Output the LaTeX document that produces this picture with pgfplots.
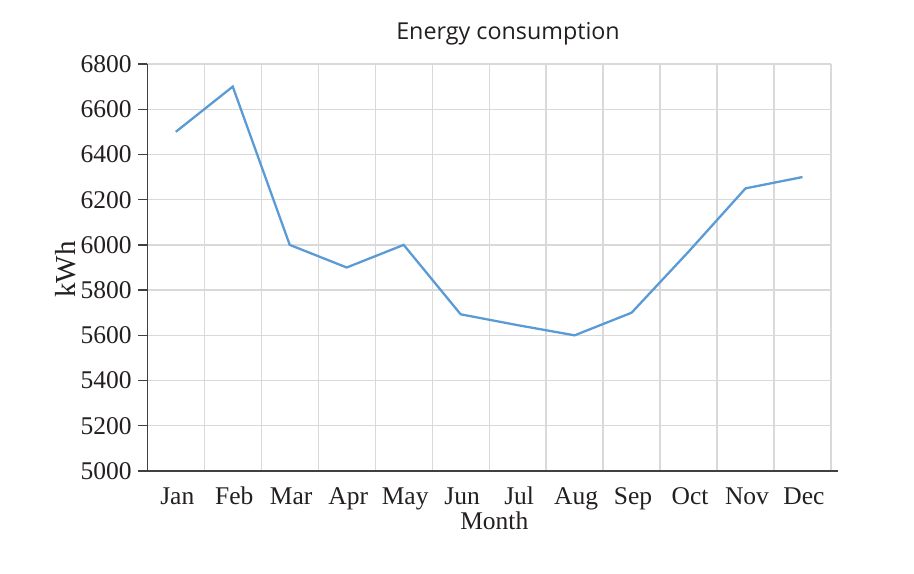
\documentclass[border=0pt]{standalone}
\usepackage{pgfplots}
\pgfplotsset{compat=1.18}
\usepackage{fontspec}
\setmainfont{Liberation Serif}
\newfontfamily\titlefont{Open Sans}
\definecolor{lineblue}{HTML}{5B9BD5}
\definecolor{gridgray}{HTML}{D9D9D9}
\definecolor{axisgray}{HTML}{404040}
\definecolor{textblack}{HTML}{231F20}
\begin{document}
\begin{tikzpicture}
\path[use as bounding box] (-147.3bp,-103bp) rectangle (766.7bp,471bp);
\begin{axis}[
  scale only axis,
  width=683.7bp, height=407bp,
  xmin=0.5, xmax=12.5,
  ymin=5000, ymax=6800,
  axis lines=left,
  axis line style={-, draw=axisgray, line width=1.3pt},
  x axis line style={shorten >=-7bp},
  xtick={1,...,12},
  xticklabels={Jan,Feb,Mar,Apr,May,Jun,Jul,Aug,Sep,Oct,Nov,Dec},
  minor xtick={0.5,1.5,...,12.5},
  xmajorgrids=false, xminorgrids=true, ymajorgrids=true,
  grid style={gridgray, line width=1.3pt},
  minor grid style={gridgray, line width=1.3pt},
  xtick style={draw=none},
  minor x tick style={draw=none},
  ytick={5000,5200,...,6800},
  ytick style={draw=axisgray, line width=1.3pt},
  tick align=outside,
  major tick length=9bp,
  yticklabel style={anchor=east, inner sep=0pt, xshift=-6.6bp},
  xticklabel style={anchor=base, inner sep=0pt, yshift=-24bp, xshift=1.5bp},
  tick label style={font=\fontsize{25.5bp}{30bp}\selectfont, text=textblack},
  scaled y ticks=false,
  /pgf/number format/.cd, 1000 sep={}, assume math mode=true,
  /pgfplots/.cd,
  xlabel={Month},
  xlabel style={at={(axis description cs:0.5075,0)}, anchor=base, inner sep=0pt, yshift=-58bp, font=\fontsize{25.5bp}{30bp}\selectfont, text=textblack},
  ylabel={kWh},
  ylabel style={at={(axis description cs:-0.1057,0.495)}, anchor=base, rotate=0, inner sep=0pt, font=\fontsize{29bp}{34bp}\selectfont, text=textblack},
  title={Energy consumption},
  title style={at={(axis description cs:0.5276,1)}, anchor=base, inner sep=0pt, yshift=18.5bp, font=\titlefont\fontsize{23.3bp}{28bp}\selectfont, text=textblack},
  clip=false,
]
\addplot[lineblue, line width=2.3pt, mark=none] coordinates {
  (1,6500) (2,6700) (3,6000) (4,5900) (5,6000) (6,5693)
  (7,5645) (8,5600) (9,5700) (10,5970) (11,6250) (12,6300)
};
\end{axis}
\end{tikzpicture}
\end{document}
